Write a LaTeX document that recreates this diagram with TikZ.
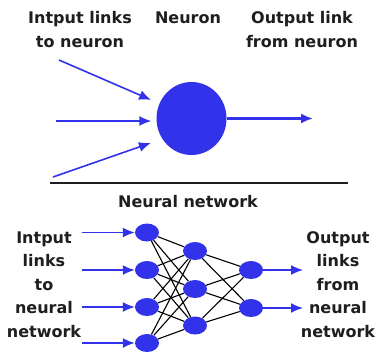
\documentclass[tikz,border=0pt]{standalone}
\usepackage{fontspec}
\setmainfont{DejaVu Sans}
\usetikzlibrary{arrows.meta,shapes.geometric}

\definecolor{netblue}{RGB}{50,50,235}
\definecolor{inkgray}{RGB}{30,30,30}

\begin{document}
\begin{tikzpicture}[x=1pt,y=-1pt,
  lbl/.style={font=\bfseries\fontsize{16}{23.5}\selectfont, text=inkgray, align=center, anchor=base, inner sep=0pt},
  cell/.style={ellipse, fill=netblue, inner sep=0pt, minimum width=24pt, minimum height=18pt},
  link/.style={draw=netblue, line width=1.6pt, -{Latex[length=12pt,width=10pt]}},
  wire/.style={black, line width=1.1pt}]

\useasboundingbox (0,0) rectangle (379,351);

% single neuron (base anchor sits on the last line)
\node[lbl] (intxt) at (80,47) {Intput links\\to neuron};
\node[lbl] (neutxt) at (188,23.5) {Neuron};
\node[lbl] (outtxt) at (302,47) {Output link\\from neuron};

\node[ellipse, fill=netblue, inner sep=0pt, minimum width=70pt, minimum height=73pt] (neuron) at (191.5,118.5) {};

\coordinate (t1) at (59,60);
\coordinate (t2) at (56,121);
\coordinate (t3) at (53,177);
\coordinate (tout) at (313,118.5);

\draw[link, shorten >=9pt] (t1) -- (neuron.155);
\draw[link, shorten >=5pt] (t2) -- (t2 -| neuron.west);
\draw[link, shorten >=12pt] (t3) -- (neuron.215);
\draw[link, line width=2.2pt] (neuron) -- (tout);

\draw[inkgray, line width=2pt] (50,183) -- (348,183);

% network
\node[lbl] (nettxt) at (188,207) {Neural network};
\node[lbl] (netin) at (44,337) {Intput\\links\\to\\neural\\network};
\node[lbl] (netout) at (338,337) {Output\\links\\from\\neural\\network};

\node[cell] (a1) at (147,232.5) {};
\node[cell] (a2) at (147,270) {};
\node[cell] (a3) at (147,307) {};
\node[cell] (a4) at (147,343) {};

\node[cell] (b1) at (195,251) {};
\node[cell] (b2) at (195,289) {};
\node[cell] (b3) at (195,325.5) {};

\node[cell] (c1) at (251,270) {};
\node[cell] (c2) at (251,308) {};

\foreach \i in {1,...,4}
  \foreach \j in {1,2,3}
    \draw[wire] (a\i) -- (b\j);
\foreach \j in {1,2,3}
  \foreach \k in {1,2}
    \draw[wire] (b\j) -- (c\k);

\foreach \i/\y in {1/232.5,2/270,3/307,4/343} {
  \coordinate (in\i) at (82,\y);
  \draw[link] (in\i) -- (a\i);
}
\foreach \k/\y in {1/270,2/308} {
  \coordinate (out\k) at (303,\y);
  \draw[link] (c\k) -- (out\k);
}

\end{tikzpicture}
\end{document}
